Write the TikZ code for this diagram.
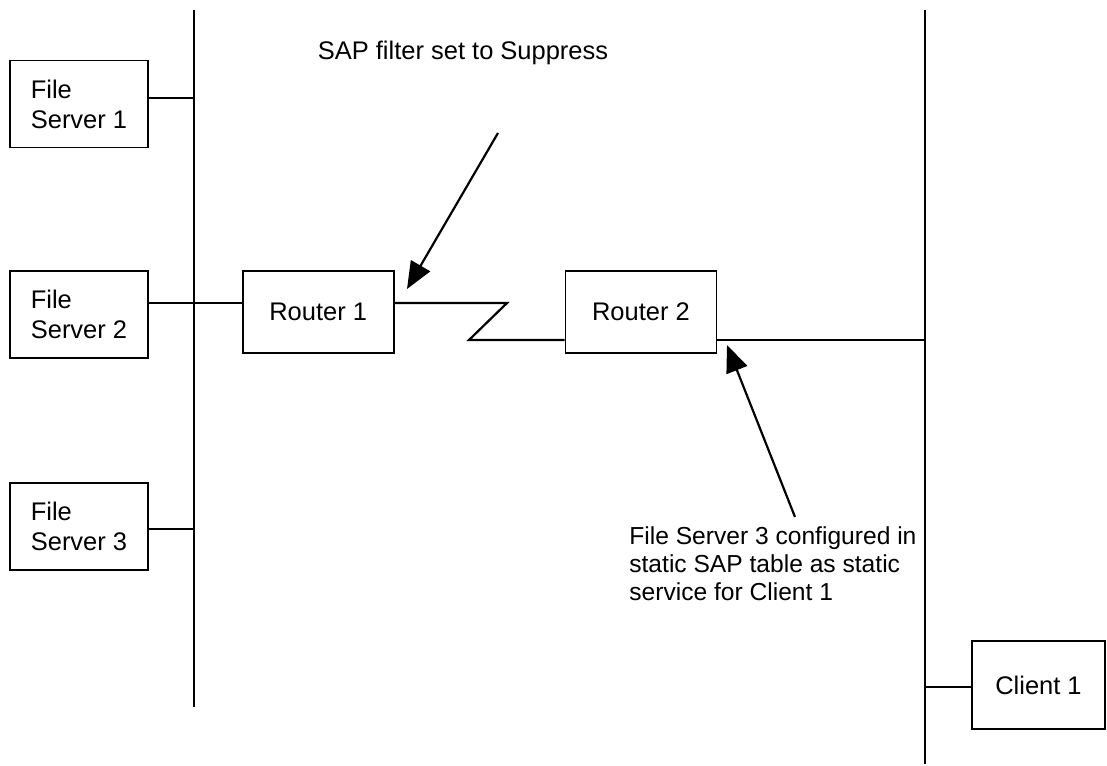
\documentclass[tikz,border=0pt]{standalone}
\usepackage{fontspec}
\setmainfont{Liberation Sans}
\usetikzlibrary{arrows.meta, positioning, calc}

\begin{document}
\begin{tikzpicture}[
  x=0.02cm, y=-0.02cm,
  box/.style={rectangle, draw, line width=1pt, minimum width=2.76cm,
              minimum height=1.74cm, align=left,
              font=\fontsize{14.5}{17}\selectfont},
  router/.style={box, minimum width=3.02cm, minimum height=1.64cm, align=center},
  bus/.style={line width=1.5pt},
  link/.style={line width=1.25pt},
  note/.style={font=\fontsize{14}{16}\selectfont, align=left, inner sep=0pt},
  arrow/.style={-{Triangle[length=5.4mm, width=4.4mm]}, line width=1.25pt},
]
\useasboundingbox (0,0) rectangle (1107,766);

% ---- bus lines ----
\coordinate (ltop) at (194,10);
\coordinate (lbot) at (194,707);
\coordinate (rtop) at (925,10);
\coordinate (rbot) at (925,764);
\draw[bus] (ltop) -- (lbot);
\draw[bus] (rtop) -- (rbot);

% ---- nodes ----
\node[box] (fs1) at (79,104) {File\\Server 1};
\node[box, below=2.44cm of fs1] (fs2) {File\\Server 2};
\node[box, below=2.46cm of fs2] (fs3) {File\\Server 3};

\node[router, right=1.86cm of fs2, yshift=0.05cm] (r1) {Router 1};
\node[router, right=3.4cm of r1] (r2) {Router 2};

\node[box, minimum width=2.66cm, minimum height=1.76cm, align=center]
  (client) at (1038.5,685) {Client 1};

% ---- links ----
\coordinate (b1) at (194,98);
\coordinate (b2) at (194,303);
\coordinate (b3) at (194,529);
\coordinate (b4) at (925,340);
\coordinate (b5) at (925,687);
\coordinate (z1) at (507,303);
\coordinate (z2) at (469,340);

\draw[link] (fs1.east |- b1) -- (b1);
\draw[link] (fs2.east |- b2) -- (r1.west |- b2);
\draw[link] (fs3.east |- b3) -- (b3);
\draw[link] (r1.east |- z1) -- (z1) -- (z2) -- (r2.west |- z2);
\draw[link] (r2.east |- b4) -- (b4);
\draw[link] (b5) -- (client.west |- b5);

% ---- notes ----
\node[note, font=\fontsize{14.5}{16}\selectfont] (sap) at (463,53)
  {SAP filter set to Suppress};
\coordinate (t1) at (498,133);
\coordinate (h1) at (407,289);
\draw[arrow] (t1) -- (h1);

\node[note, anchor=north west] (cfg) at (629,526)
  {File Server 3 configured in\\static SAP table as static\\service for Client 1};
\coordinate (t2) at (795,517);
\coordinate (h2) at (727,345);
\draw[arrow] (t2) -- (h2);

\end{tikzpicture}
\end{document}
